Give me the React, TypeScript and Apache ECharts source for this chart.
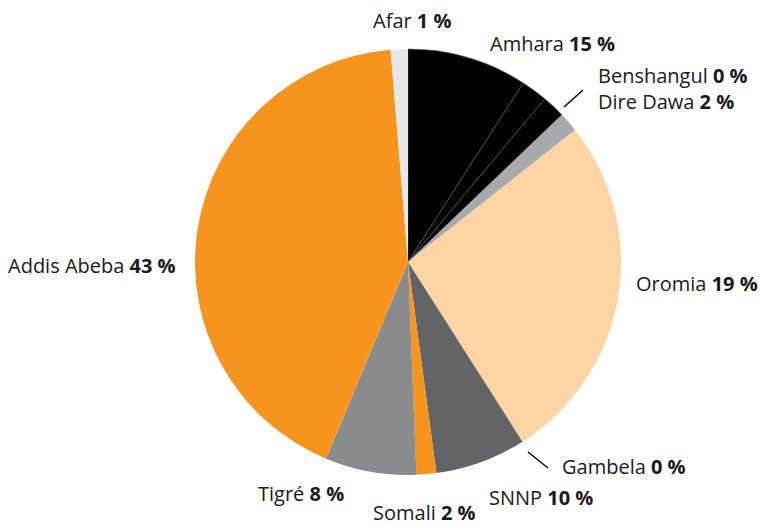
import React, { useEffect, useRef } from "react";
import * as echarts from "echarts";

const sliceNames = ["Amhara", "Amhara (2)", "Benshangul", "Dire Dawa", "Oromia", "Gambela", "SNNP", "Somali", "Tigré", "Addis Abeba", "Afar"];
const sliceShares = [9.1, 2.0, 1.75, 1.5, 26.6, 0, 6.9, 1.5, 6.9, 42.4, 1.3];
const labelPercents: (number | null)[] = [15, null, 0, 2, 19, 0, 10, 2, 8, 43, 1];
const sliceColors = ["#000000", "#000000", "#000000", "#a7a9ac", "#fdd4a3", "#636466", "#636466", "#f7941d", "#8a8b8d", "#f7941d", "#e6e7e8"];

// label anchor (left x, middle y) per slice index
const labelPos: Record<number, [number, number]> = {
  0: [490, 43],
  2: [598, 75],
  3: [598, 101],
  4: [636, 283],
  5: [562, 466],
  6: [489, 497],
  7: [373, 512],
  8: [258, 493],
  9: [8, 265],
  10: [373, 20],
};

const FONT = "'Open Sans', sans-serif";

export default function App() {
  const ref = useRef<HTMLDivElement>(null);
  useEffect(() => {
    if (!ref.current) return;
    const chart = echarts.init(ref.current, null, { renderer: "svg" });
    const data = sliceNames.map((name, i) => ({
      name,
      value: sliceShares[i],
      itemStyle: {
        color: sliceColors[i],
        borderColor: sliceColors[i] === "#000000" ? "#5a5a5a" : sliceColors[i],
        borderWidth: sliceColors[i] === "#000000" ? 0.6 : 0,
      },
      label: { show: labelPercents[i] !== null },
    }));
    chart.setOption({
      animation: false,
      backgroundColor: "#ffffff",
      textStyle: { fontFamily: FONT },
      graphic: [
        { type: "line", shape: { x1: 564, y1: 107, x2: 583, y2: 90 }, style: { stroke: "#000", lineWidth: 1.5 } },
        { type: "line", shape: { x1: 528, y1: 452, x2: 548, y2: 468 }, style: { stroke: "#000", lineWidth: 1.5 } },
      ],
      series: [
        {
          type: "pie",
          center: [408, 262],
          radius: 213,
          startAngle: 90,
          clockwise: true,
          avoidLabelOverlap: false,
          data,
          labelLine: { show: false },
          label: {
            show: true,
            position: "outside",
            formatter: (p: any) => `{n|${p.name} }{b|${labelPercents[p.dataIndex]} %}`,
            rich: {
              n: { fontFamily: FONT, fontSize: 20, color: "#1a1a1a" },
              b: { fontFamily: FONT, fontSize: 20, color: "#1a1a1a", fontWeight: "bold" },
            },
          },
          labelLayout: (params: any) => {
            const pos = labelPos[params.dataIndex];
            if (!pos) return {};
            return { x: pos[0], y: pos[1], align: "left", verticalAlign: "middle" };
          },
        },
      ],
    });
    return () => chart.dispose();
  }, []);
  return <div ref={ref} style={{ position: "absolute", left: 0, top: 0, width: 760, height: 525 }} />;
}
